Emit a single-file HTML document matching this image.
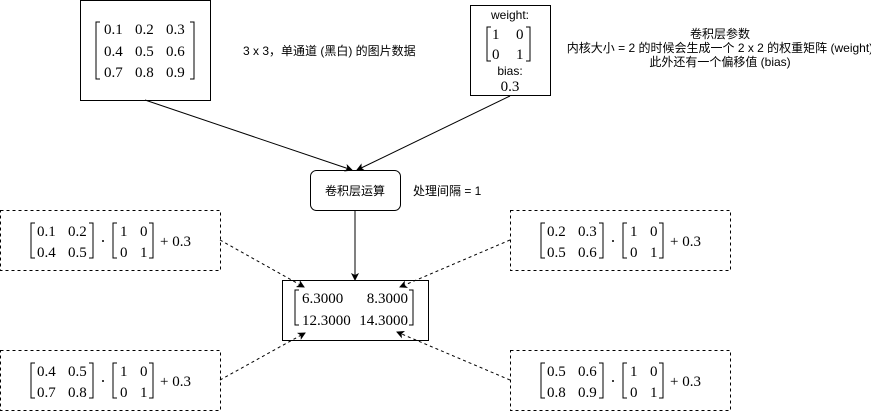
<!DOCTYPE html>
<html><head><meta charset="utf-8"><style>
html,body{margin:0;padding:0;background:#fff;}
svg{display:block;}
.s{font-family:"Liberation Sans","Noto Sans CJK SC",sans-serif;font-size:12px;fill:#000;}
.m{font-family:"Liberation Serif",serif;font-size:15px;fill:#000;}
</style></head><body>
<svg width="871" height="411" viewBox="0 0 871 411" xmlns="http://www.w3.org/2000/svg">
<defs>
<marker id="a" markerWidth="8" markerHeight="8" refX="7" refY="4" orient="auto" markerUnits="userSpaceOnUse"><path d="M0,0 L8,4 L0,8 L2,4 z" fill="#000"/></marker>
<g id="dm">
</g>
</defs>
<g fill="none" stroke="#000" stroke-width="1">
<rect x="80.5" y="0.5" width="130" height="100"/>
<rect x="470.5" y="5.5" width="80" height="90"/>
<rect x="310.5" y="170.5" width="90" height="40" rx="6"/>
<rect x="282.5" y="280.5" width="146" height="60"/>
<g stroke-dasharray="3,3">
<rect x="0.5" y="210.5" width="220" height="60"/>
<rect x="510.5" y="210.5" width="220" height="60"/>
<rect x="0.5" y="350.5" width="220" height="60"/>
<rect x="510.5" y="350.5" width="220" height="60"/>
<line x1="220" y1="240" x2="304" y2="287" marker-end="url(#a)"/>
<line x1="510" y1="240" x2="400" y2="287" marker-end="url(#a)"/>
<line x1="220" y1="380" x2="305" y2="333" marker-end="url(#a)"/>
<line x1="510" y1="380" x2="397" y2="332" marker-end="url(#a)"/>
</g>
<line x1="145" y1="100" x2="352" y2="170" marker-end="url(#a)"/>
<line x1="510" y1="96" x2="357" y2="170" marker-end="url(#a)"/>
<line x1="355" y1="211" x2="355" y2="280" marker-end="url(#a)"/>
<!-- brackets box1 -->
<path d="M100,22 H96 V79 H100 M190,22 H194 V79 H190"/>
<!-- weight -->
<path d="M491,27 H487 V61 H491 M526,27 H530 V61 H526"/>
<!-- result -->
<path d="M299,290 H295 V325 H299 M409,290 H413 V325 H409"/>
</g>
<text class="m" x="104" y="34">0.1</text><text class="m" x="135" y="34">0.2</text><text class="m" x="166" y="34">0.3</text>
<text class="m" x="104" y="56">0.4</text><text class="m" x="135" y="56">0.5</text><text class="m" x="166" y="56">0.6</text>
<text class="m" x="104" y="77">0.7</text><text class="m" x="135" y="77">0.8</text><text class="m" x="166" y="77">0.9</text>
<text class="s" x="243" y="55">3 x 3，单通道 (黑白) 的图片数据</text>
<text class="s" x="510" y="19" text-anchor="middle">weight:</text>
<text class="m" x="492" y="39">1</text><text class="m" x="516" y="39">0</text>
<text class="m" x="492" y="59">0</text><text class="m" x="516" y="59">1</text>
<text class="s" x="510" y="75" text-anchor="middle">bias:</text>
<text class="m" x="510" y="91" text-anchor="middle">0.3</text>
<text class="s" x="720" y="38" text-anchor="middle">卷积层参数</text>
<text class="s" x="720" y="52" text-anchor="middle">内核大小 = 2 的时候会生成一个 2 x 2 的权重矩阵 (weight)</text>
<text class="s" x="720" y="66" text-anchor="middle">此外还有一个偏移值 (bias)</text>
<text class="s" x="355" y="195" text-anchor="middle">卷积层运算</text>
<text class="s" x="413" y="195">处理间隔 = 1</text>
<text class="m" x="302" y="303" font-size="14">6.3000</text><text class="m" x="408" y="303" font-size="14" text-anchor="end">8.3000</text>
<text class="m" x="302" y="325" font-size="14">12.3000</text><text class="m" x="408" y="325" font-size="14" text-anchor="end">14.3000</text>
<g transform="translate(0,210)">
<path d="M35,13 H31 V48 H35 M89,13 H93 V48 H89 M117,13 H113 V48 H117 M149,13 H153 V48 H149" fill="none" stroke="#000"/>
<circle cx="103" cy="31" r="1" fill="#000"/>
<text class="m" x="37" y="26">0.1</text><text class="m" x="68" y="26">0.2</text>
<text class="m" x="37" y="47">0.4</text><text class="m" x="68" y="47">0.5</text>
<text class="m" x="120" y="26">1</text><text class="m" x="140" y="26">0</text>
<text class="m" x="120" y="47">0</text><text class="m" x="140" y="47">1</text>
<text class="m" x="160" y="36">+ 0.3</text>
</g>
<g transform="translate(510,210)">
<path d="M35,13 H31 V48 H35 M89,13 H93 V48 H89 M117,13 H113 V48 H117 M149,13 H153 V48 H149" fill="none" stroke="#000"/>
<circle cx="103" cy="31" r="1" fill="#000"/>
<text class="m" x="37" y="26">0.2</text><text class="m" x="68" y="26">0.3</text>
<text class="m" x="37" y="47">0.5</text><text class="m" x="68" y="47">0.6</text>
<text class="m" x="120" y="26">1</text><text class="m" x="140" y="26">0</text>
<text class="m" x="120" y="47">0</text><text class="m" x="140" y="47">1</text>
<text class="m" x="160" y="36">+ 0.3</text>
</g>
<g transform="translate(0,350)">
<path d="M35,13 H31 V48 H35 M89,13 H93 V48 H89 M117,13 H113 V48 H117 M149,13 H153 V48 H149" fill="none" stroke="#000"/>
<circle cx="103" cy="31" r="1" fill="#000"/>
<text class="m" x="37" y="26">0.4</text><text class="m" x="68" y="26">0.5</text>
<text class="m" x="37" y="47">0.7</text><text class="m" x="68" y="47">0.8</text>
<text class="m" x="120" y="26">1</text><text class="m" x="140" y="26">0</text>
<text class="m" x="120" y="47">0</text><text class="m" x="140" y="47">1</text>
<text class="m" x="160" y="36">+ 0.3</text>
</g>
<g transform="translate(510,350)">
<path d="M35,13 H31 V48 H35 M89,13 H93 V48 H89 M117,13 H113 V48 H117 M149,13 H153 V48 H149" fill="none" stroke="#000"/>
<circle cx="103" cy="31" r="1" fill="#000"/>
<text class="m" x="37" y="26">0.5</text><text class="m" x="68" y="26">0.6</text>
<text class="m" x="37" y="47">0.8</text><text class="m" x="68" y="47">0.9</text>
<text class="m" x="120" y="26">1</text><text class="m" x="140" y="26">0</text>
<text class="m" x="120" y="47">0</text><text class="m" x="140" y="47">1</text>
<text class="m" x="160" y="36">+ 0.3</text>
</g>
</svg>
</body></html>
